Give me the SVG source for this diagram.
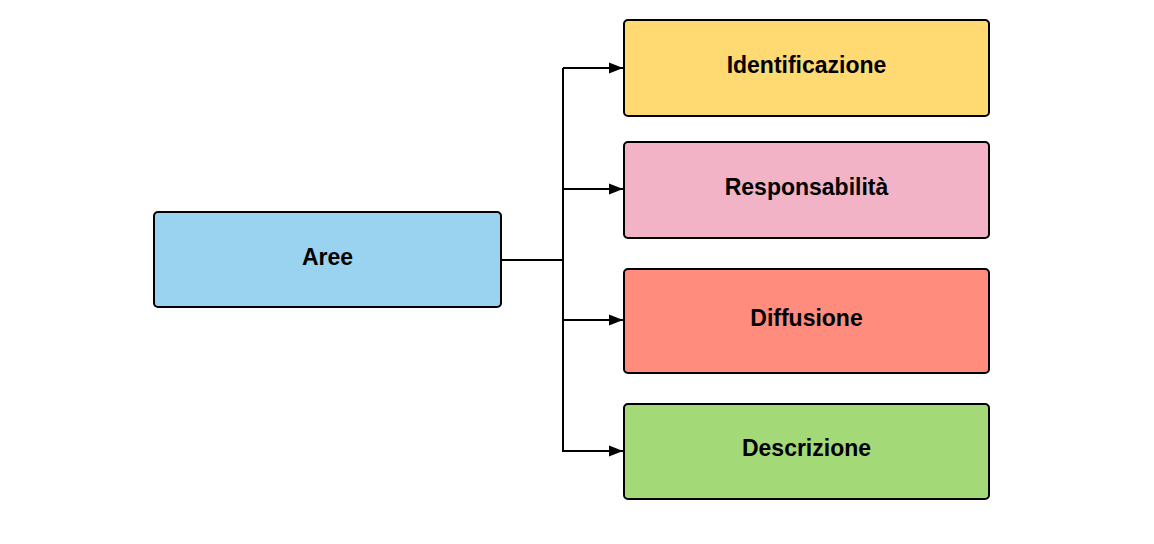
<svg xmlns="http://www.w3.org/2000/svg" width="1154" height="544" viewBox="0 0 1154 544">
<style>
.box{stroke:#000;stroke-width:2}
.lbl{font-family:"Liberation Sans",Arial,sans-serif;font-weight:bold;font-size:23px;fill:#000;text-anchor:middle;dominant-baseline:central}
.conn{fill:none;stroke:#000;stroke-width:2}
</style>
<defs>
<marker id="arr" markerWidth="14" markerHeight="12" refX="14" refY="6" orient="auto" markerUnits="userSpaceOnUse">
<path d="M0,0.5 L14,6 L0,11.5 Z" fill="#000"/>
</marker>
</defs>
<rect width="1154" height="544" fill="#fff"/>
<g id="connectors">
<path class="conn" d="M501,260 H563"/>
<path class="conn" d="M563,68 V452"/>
<path class="conn" d="M563,68 H623" marker-end="url(#arr)"/>
<path class="conn" d="M563,189 H623" marker-end="url(#arr)"/>
<path class="conn" d="M563,320 H623" marker-end="url(#arr)"/>
<path class="conn" d="M563,451 H623" marker-end="url(#arr)"/>
</g>
<g id="aree"><rect class="box" x="154" y="212" width="347" height="95" rx="4" fill="#9AD3F0"/><text class="lbl" x="327.5" y="257">Aree</text></g>
<g id="identificazione"><rect class="box" x="624" y="20" width="365" height="96" rx="4" fill="#FFDA73"/><text class="lbl" x="806.5" y="65">Identificazione</text></g>
<g id="responsabilita"><rect class="box" x="624" y="142" width="365" height="96" rx="4" fill="#F2B3C6"/><text class="lbl" x="806.5" y="187">Responsabilità</text></g>
<g id="diffusione"><rect class="box" x="624" y="269" width="365" height="104" rx="4" fill="#FF8C7D"/><text class="lbl" x="806.5" y="318">Diffusione</text></g>
<g id="descrizione"><rect class="box" x="624" y="404" width="365" height="95" rx="4" fill="#A3D977"/><text class="lbl" x="806.5" y="448">Descrizione</text></g>
</svg>
